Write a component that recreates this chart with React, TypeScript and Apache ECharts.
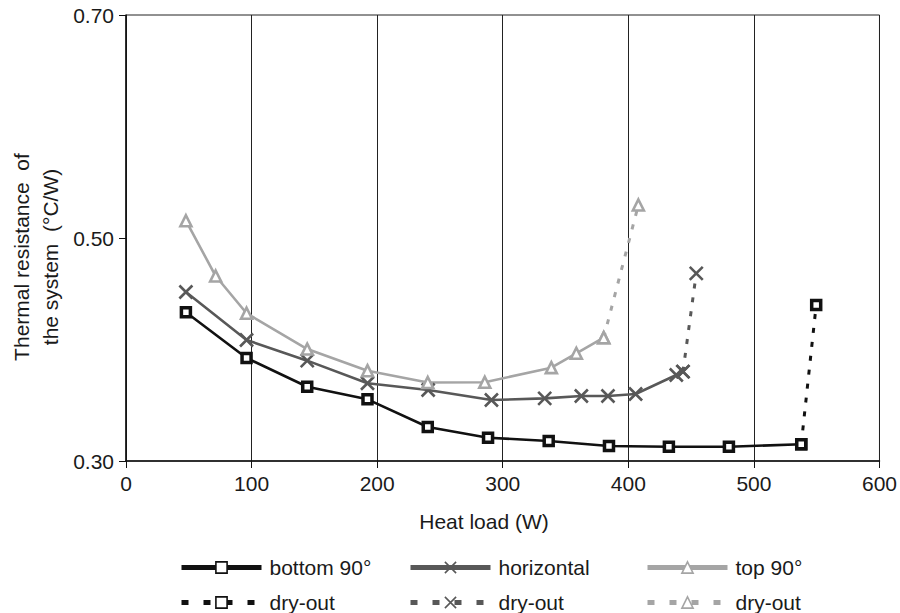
import React, { useEffect, useRef } from "react";
import * as echarts from "echarts";

// Heat load (W) and thermal resistance (°C/W) values
const bottomX = [47.7, 96.0, 144.3, 192.3, 240.3, 288.3, 336.6, 384.6, 432.3, 480.1, 537.7];
const bottomY = [0.4334, 0.3924, 0.3666, 0.3553, 0.3305, 0.3209, 0.3179, 0.3135, 0.3128, 0.3128, 0.315];
const bottomDryX = [537.7, 549.6];
const bottomDryY = [0.315, 0.4399];

const horizX = [47.7, 96.0, 144.3, 192.3, 240.6, 291.0, 333.4, 362.6, 383.8, 405.8, 438.2, 443.5];
const horizY = [0.4516, 0.4085, 0.39, 0.3697, 0.3637, 0.3547, 0.3562, 0.3583, 0.3583, 0.3601, 0.3771, 0.3801];
const horizDryX = [443.5, 454.1];
const horizDryY = [0.3801, 0.4683];

const topX = [47.7, 71.4, 96.0, 144.3, 192.3, 240.3, 285.7, 338.7, 358.6, 380.4];
const topY = [0.5155, 0.4659, 0.4325, 0.4004, 0.381, 0.3704, 0.3706, 0.3837, 0.3966, 0.4106];
const topDryX = [380.4, 408.0];
const topDryY = [0.4106, 0.5296];

const xTicks = [0, 100, 200, 300, 400, 500, 600];
const yTicks = [0.3, 0.5, 0.7];

const seriesNames = ["bottom 90°", "horizontal", "top 90°", "dry-out", "dry-out ", "dry-out  "];
const yTitleLines = ["Thermal resistance  of", "the system  (°C/W)"];
const xTitle = "Heat load (W)";

const FONT = "'Liberation Sans', Arial, Helvetica, sans-serif";
const C_BOTTOM = "#111111";
const C_HORIZ = "#585858";
const C_TOP = "#a5a5a5";
const X_PATH = "path://M0,0L10,10M0,10L10,0";

const zip = (xs: number[], ys: number[]) => xs.map((x, i) => [x, ys[i]]);

export default function App() {
  const ref = useRef<HTMLDivElement>(null);
  useEffect(() => {
    if (!ref.current) return;
    const chart = echarts.init(ref.current, undefined, { renderer: "svg" });

    const mk = (
      name: string,
      xs: number[],
      ys: number[],
      color: string,
      symbol: string,
      symbolSize: number,
      borderWidth: number,
      fill: string,
      dotted: boolean
    ) => ({
      type: "line",
      name,
      data: zip(xs, ys),
      color,
      symbol,
      symbolSize,
      showSymbol: true,
      lineStyle: { color, width: dotted ? 3 : 2.6, type: dotted ? [5, 9] : "solid" },
      itemStyle: { color: fill, borderColor: color, borderWidth },
      emphasis: { disabled: true },
      z: dotted ? 1 : 2,
    });

    const legendPos = [
      { left: 179, cy: 564 },
      { left: 408, cy: 564 },
      { left: 645, cy: 564 },
      { left: 179, cy: 599 },
      { left: 408, cy: 599 },
      { left: 645, cy: 599 },
    ];

    const legends = seriesNames.map((n, i) => ({
      show: true,
      data: [n],
      left: legendPos[i].left,
      top: legendPos[i].cy - 7,
      padding: 0,
      itemWidth: 80,
      itemHeight: 14,
      itemGap: 0,
      selectedMode: false,
      formatter: (name: string) => name.trim(),
      textStyle: { fontFamily: FONT, fontSize: 21, color: "#1a1a1a", padding: [0, 0, 0, 3] },
      lineStyle: i < 3 ? { width: 5, type: "solid" } : { width: 5, type: [7, 15] },
      itemStyle: { borderWidth: 1.6 },
    }));

    chart.setOption({
      animation: false,
      backgroundColor: "#ffffff",
      grid: {
        left: 126,
        right: 20,
        top: 15,
        bottom: 152,
        show: true,
        borderColor: "#222",
        borderWidth: 1,
        backgroundColor: "transparent",
      },
      legend: legends,
      xAxis: {
        type: "value",
        min: xTicks[0],
        max: xTicks[xTicks.length - 1],
        interval: 100,
        axisLine: { show: true, lineStyle: { color: "#111", width: 1.5 } },
        axisTick: { show: true, inside: false, length: 7, lineStyle: { color: "#111" } },
        axisLabel: { fontFamily: FONT, fontSize: 21, color: "#1a1a1a", margin: 12 },
        splitLine: { show: true, lineStyle: { color: "#222", width: 1 } },
      },
      yAxis: {
        type: "value",
        min: yTicks[0],
        max: yTicks[yTicks.length - 1],
        interval: 0.2,
        axisLine: { show: true, lineStyle: { color: "#111", width: 1.5 } },
        axisTick: { show: true, inside: false, length: 7, lineStyle: { color: "#111" } },
        axisLabel: {
          fontFamily: FONT,
          fontSize: 21,
          color: "#1a1a1a",
          margin: 12,
          formatter: (v: number) => v.toFixed(2),
        },
        splitLine: { show: false },
      },
      graphic: [
        {
          type: "text",
          x: 21,
          y: 257,
          rotation: Math.PI / 2,
          style: {
            text: yTitleLines[0],
            font: `21px ${FONT}`,
            fill: "#1a1a1a",
            align: "center",
            verticalAlign: "middle",
            textAlign: "center",
            textVerticalAlign: "middle",
          },
        },
        {
          type: "text",
          x: 50,
          y: 257,
          rotation: Math.PI / 2,
          style: {
            text: yTitleLines[1],
            font: `21px ${FONT}`,
            fill: "#1a1a1a",
            align: "center",
            verticalAlign: "middle",
            textAlign: "center",
            textVerticalAlign: "middle",
          },
        },
        {
          type: "text",
          x: 484,
          y: 521,
          style: {
            text: xTitle,
            font: `21px ${FONT}`,
            fill: "#1a1a1a",
            align: "center",
            verticalAlign: "middle",
            textAlign: "center",
            textVerticalAlign: "middle",
          },
        },
      ],
      series: [
        mk(seriesNames[3], bottomDryX, bottomDryY, C_BOTTOM, "rect", 9, 3.5, "#fff", true),
        mk(seriesNames[4], horizDryX, horizDryY, C_HORIZ, X_PATH, 13, 2.6, C_HORIZ, true),
        mk(seriesNames[5], topDryX, topDryY, C_TOP, "triangle", 11, 2.6, "#fff", true),
        mk(seriesNames[0], bottomX, bottomY, C_BOTTOM, "rect", 9, 3.5, "#fff", false),
        mk(seriesNames[1], horizX, horizY, C_HORIZ, X_PATH, 13, 2.6, C_HORIZ, false),
        mk(seriesNames[2], topX, topY, C_TOP, "triangle", 11, 2.6, "#fff", false),
      ],
    });

    return () => chart.dispose();
  }, []);

  return (
    <div
      ref={ref}
      style={{ position: "absolute", left: 0, top: 0, width: 900, height: 613, background: "#fff" }}
    />
  );
}
